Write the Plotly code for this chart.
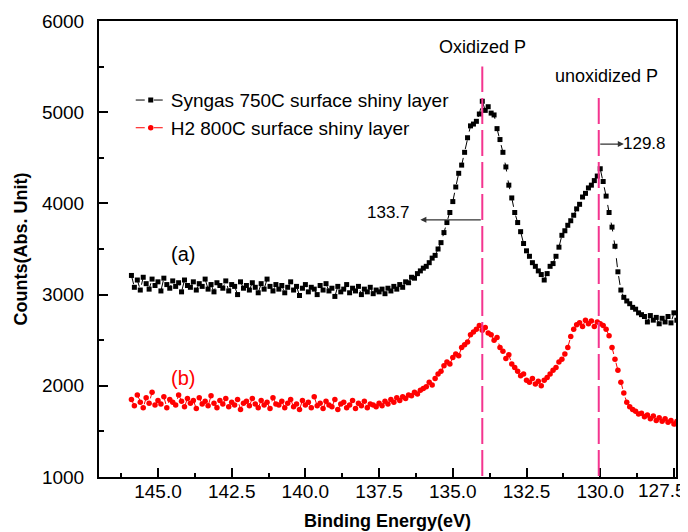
import numpy as np
import plotly.graph_objects as go

# Binding energy grid (eV), sampled every 0.1 eV from 145.9 down to 127.4
energy = np.round(np.linspace(145.9, 127.4, 186), 1)

# (a) Syngas 750C surface shiny layer
syngas_counts = [
    3210, 3080, 3160, 3050, 3190, 3120, 3060, 3170, 3100, 3140,
    3040, 3180, 3110, 3070, 3150, 3090, 3130, 3030, 3160, 3100,
    3080, 3140, 3050, 3120, 3090, 3170, 3060, 3110, 3030, 3130,
    3100, 3070, 3150, 3040, 3110, 3090, 3000, 3140, 3070, 3100,
    3050, 3130, 3080, 3020, 3120, 3060, 3170, 3090, 3040, 3110,
    3060, 3100, 3020, 3080, 3140, 3050, 3090, 2990, 3070, 3110,
    3030, 3080, 3060, 3000, 3100, 3050, 3120, 3040, 3070, 2980,
    3090, 3030, 3060, 3110, 3020, 3070, 3040, 3090, 3000, 3060,
    3030, 3080, 3010, 3050,
    3030, 3060, 3010, 3070, 3040, 3090, 3060, 3110, 3080, 3140,
    3130, 3190, 3180, 3230, 3260, 3290,
    3310, 3350, 3400, 3430, 3500, 3570, 3680, 3790, 3900, 4020,
    4180, 4330, 4420, 4560, 4720, 4850, 4870, 4900, 4980, 5120,
    5020, 5060, 4990, 4970, 4820, 4700, 4560, 4400, 4200, 4060,
    3900, 3790, 3690, 3560, 3480, 3420, 3350, 3310, 3260, 3220,
    3160, 3230, 3310, 3340, 3420, 3520, 3650, 3700, 3760, 3810,
    3870, 3940, 3990, 4070, 4110, 4170, 4200, 4250, 4300, 4380,
    4240, 4080, 3900, 3740, 3530, 3250, 3050, 2970, 2930, 2900,
    2860, 2840, 2800, 2780, 2760, 2700, 2770, 2720, 2750, 2680,
    2740, 2700, 2760, 2690, 2800, 2720,
]

# (b) H2 800C surface shiny layer
h2_counts = [
    1850, 1780, 1900, 1820, 1760, 1870, 1810, 1930, 1790, 1840,
    1800, 1880, 1760, 1850, 1820, 1790, 1900, 1830, 1770, 1860,
    1810, 1840, 1750, 1870, 1800, 1830, 1780, 1890, 1810, 1760,
    1840, 1800, 1860, 1770, 1820, 1790, 1850, 1740, 1810, 1830,
    1780, 1860, 1800, 1760, 1840, 1790, 1820, 1750, 1870, 1800,
    1790, 1830, 1760, 1810, 1850, 1770, 1800, 1740, 1840, 1790,
    1820, 1760, 1880, 1780, 1810, 1750, 1830, 1790, 1770, 1850,
    1740, 1800, 1820, 1760, 1790, 1840, 1750, 1810, 1780, 1830,
    1760, 1800, 1790, 1770,
    1810, 1780, 1830, 1800, 1850, 1820, 1870, 1840, 1880, 1860,
    1900, 1890, 1930, 1910, 1950, 1970,
    1990, 2040, 2010, 2080, 2130, 2160, 2220, 2260, 2240, 2310,
    2350, 2330, 2420, 2450, 2480, 2560, 2590, 2620, 2660, 2610,
    2640, 2580, 2560, 2500, 2530, 2420, 2380, 2300, 2340, 2240,
    2200, 2160, 2110, 2130, 2060, 2040, 2080, 2020, 2050, 2000,
    2060, 2090, 2130, 2170, 2200, 2260, 2290, 2350, 2420, 2540,
    2620, 2670, 2690, 2650, 2720, 2680, 2710, 2650, 2700, 2680,
    2660, 2620, 2550, 2420, 2290, 2170, 2040, 1920, 1820, 1770,
    1740, 1720, 1690, 1700, 1660, 1680, 1640, 1670, 1620, 1650,
    1610, 1640, 1600, 1620, 1580, 1610,
]

series_names = ["Syngas 750C surface shiny layer", "H2 800C surface shiny layer"]

# Peak marker positions (eV) and their labels
peak_lines = [134.0, 130.05]
peak_line_tops = [5500, 5180]
peak_titles = ["Oxidized P", "unoxidized P"]
peak_values = ["133.7", "129.8"]

# Axis ranges and tick values
x_range = [147.0, 127.43]
y_range = [1000, 6000]
x_major = [145.0, 142.5, 140.0, 137.5, 135.0, 132.5, 130.0, 127.5]
x_minor = [146.25, 143.75, 141.25, 138.75, 136.25, 133.75, 131.25, 128.75]
y_major = [1000, 2000, 3000, 4000, 5000, 6000]
y_minor = [1500, 2500, 3500, 4500, 5500]

FONT = "Liberation Sans, Arial, sans-serif"
PINK = "#f4348f"

fig = go.Figure()
fig.add_trace(go.Scatter(
    x=energy, y=syngas_counts, name=series_names[0], mode="lines+markers",
    line=dict(color="black", width=1, dash="dash"),
    marker=dict(symbol="square", size=5, color="black"),
))
fig.add_trace(go.Scatter(
    x=energy, y=h2_counts, name=series_names[1], mode="lines+markers",
    line=dict(color="#ff0000", width=1, dash="dash"),
    marker=dict(symbol="circle", size=5.5, color="#ff0000"),
))

for xv, top in zip(peak_lines, peak_line_tops):
    fig.add_shape(type="line", x0=xv, x1=xv, y0=1010, y1=top, xref="x", yref="y",
                  line=dict(color=PINK, width=2, dash="26px,6px"))

# peak titles
fig.add_annotation(x=peak_lines[0], y=5715, text=peak_titles[0], showarrow=False,
                   font=dict(family=FONT, size=18, color="black"))
fig.add_annotation(x=129.8, y=5400, text=peak_titles[1], showarrow=False,
                   font=dict(family=FONT, size=18, color="black"))

# arrows
fig.add_annotation(x=136.1, y=3820, ax=peak_lines[0], ay=3820, axref="x", ayref="y",
                   xref="x", yref="y", text="", showarrow=True, arrowhead=2,
                   arrowsize=1, arrowwidth=1.2, arrowcolor="#333")
fig.add_annotation(x=129.2, y=4650, ax=peak_lines[1], ay=4650, axref="x", ayref="y",
                   xref="x", yref="y", text="", showarrow=True, arrowhead=2,
                   arrowsize=1, arrowwidth=1.2, arrowcolor="#333")
fig.add_annotation(x=136.37, y=3905, text=peak_values[0], showarrow=False, xanchor="right",
                   font=dict(family=FONT, size=17, color="black"))
fig.add_annotation(x=129.28, y=4660, text=peak_values[1], showarrow=False, xanchor="left",
                   font=dict(family=FONT, size=17, color="black"))

# series labels
fig.add_annotation(x=144.15, y=3440, text="(a)", showarrow=False,
                   font=dict(family=FONT, size=20, color="black"))
fig.add_annotation(x=144.15, y=2090, text="(b)", showarrow=False,
                   font=dict(family=FONT, size=20, color="#ff0000"))

# last x tick label sits at the right edge of the figure
fig.add_annotation(x=1.0, xshift=12, xref="paper", y=0, yref="paper", yshift=-13,
                   text=f"{x_major[-1]:.1f}", showarrow=False, xanchor="right", yanchor="middle",
                   font=dict(family=FONT, size=19, color="black"))

axis_common = dict(
    showline=True, linecolor="black", linewidth=2, mirror=True,
    ticks="inside", ticklen=9, tickwidth=2, tickcolor="black",
    showgrid=False, zeroline=False, automargin=False,
    tickfont=dict(family=FONT, size=19, color="black"),
)

fig.update_layout(
    template="none",
    width=680, height=524,
    margin=dict(l=91, r=12, t=13, b=55),
    paper_bgcolor="white", plot_bgcolor="white",
    font=dict(family=FONT, color="black"),
    showlegend=True,
    legend=dict(x=0.055, y=0.868, xanchor="left", yanchor="top",
                bgcolor="rgba(0,0,0,0)", font=dict(family=FONT, size=19),
                tracegroupgap=0),
    xaxis=dict(
        range=x_range, tickmode="array", tickvals=x_major,
        ticktext=[f"{v:.1f}" for v in x_major[:-1]] + [""],
        minor=dict(tickmode="array", tickvals=x_minor, ticks="inside", ticklen=4.5,
                   tickwidth=2, tickcolor="black"),
        ticklabelstandoff=-4,
        title=dict(text="<b>Binding Energy(eV)</b>", font=dict(family=FONT, size=18), standoff=14),
        **axis_common,
    ),
    yaxis=dict(
        range=y_range, tickmode="array", tickvals=y_major,
        minor=dict(tickmode="array", tickvals=y_minor, ticks="inside", ticklen=4.5,
                   tickwidth=2, tickcolor="black"),
        ticklabelstandoff=9, ticklabeloverflow="allow",
        title=dict(text="<b>Counts(Abs. Unit)</b>", font=dict(family=FONT, size=18), standoff=10),
        **axis_common,
    ),
)

fig.write_html("out.html")
